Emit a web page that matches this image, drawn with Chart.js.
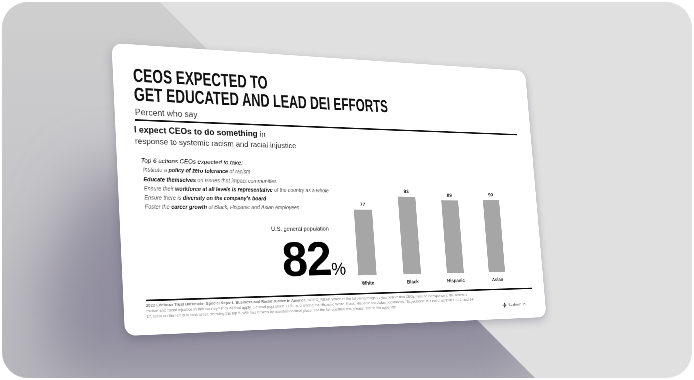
<!DOCTYPE html>
<html>
<head>
<meta charset="utf-8">
<script src="https://cdn.jsdelivr.net/npm/chart.js@4/dist/chart.umd.min.js"></script>
<style>
  html,body{margin:0;padding:0;background:#fff;width:694px;height:380px;overflow:hidden;font-family:"Liberation Sans",Arial,sans-serif;}
  #frame{position:absolute;left:2px;top:2px;width:690px;height:376px;border-radius:26px;overflow:hidden;background:#e0e0e0;}
  #leftRegion{position:absolute;left:0;top:0;width:690px;height:376px;
    clip-path:polygon(0 0,158px 0,533px 376px,0 376px);
    background:linear-gradient(180deg,#cfcfcf 0%,#c4c3c7 55%,#b9b8be 100%);}
  #shadowWrap{position:absolute;left:0;top:0;width:690px;height:376px;filter:blur(30px);}
  #shadowShape{position:absolute;left:0;top:0;width:690px;height:376px;
    clip-path:polygon(90px 170px,470px 190px,540px 300px,520px 420px,60px 420px,40px 280px);
    background:rgba(122,117,140,0.66);}
  #card{position:absolute;left:-2px;top:-2px;width:900px;height:540px;background:#fff;border-radius:20px;
    transform-origin:0 0;box-shadow:0 6px 18px rgba(60,55,80,0.30);overflow:hidden;}
  .abs{position:absolute;white-space:nowrap;}
  #title{font-size:36px;line-height:36px;font-weight:bold;color:#111;transform:scaleX(0.72);transform-origin:0 0;}
  #sub{font-size:16px;line-height:16px;color:#3a3a3a;}
  .rule{position:absolute;background:#111;height:3px;}
  #expect{font-size:16.2px;line-height:16.2px;font-weight:bold;color:#111;}
  #expect span{font-weight:normal;font-size:15px;color:#333;}
  #resp{font-size:15px;line-height:15px;color:#333;}
  #top6{font-size:11.7px;line-height:11.7px;font-style:italic;color:#000;}
  #items{font-size:10.3px;line-height:17.2px;font-style:italic;color:#5e5e5e;}
  #items b{color:#111;}
  #gp{font-size:11.5px;line-height:11.5px;color:#222;}
  #big{font-size:95px;line-height:95px;font-weight:bold;color:#000;letter-spacing:-2px;}
  #big span{font-size:35px;font-weight:normal;letter-spacing:0;}
  #chartBox{position:absolute;}
  #foot{position:absolute;font-size:7.5px;line-height:10px;color:#8a8a8a;white-space:normal;width:690px;}
  #foot b{color:#777;}
  #logo{font-size:8px;line-height:12px;color:#444;}
</style>
</head>
<body>
<div id="frame">
  <div id="leftRegion">
    <div id="shadowWrap"><div id="shadowShape"></div></div>
  </div>
  <div id="card">
    <div id="title" class="abs">CEOS EXPECTED TO<br>GET EDUCATED AND LEAD DEI EFFORTS</div>
    <div id="sub" class="abs">Percent who say</div>
    <div id="rule1" class="rule"></div>
    <div id="expect" class="abs">I expect CEOs to do something <span>in</span></div>
    <div id="resp" class="abs">response to systemic racism and racial injustice</div>
    <div id="top6" class="abs">Top 6 actions CEOs expected to take:</div>
    <div id="items" class="abs"></div>
    <div id="gp" class="abs">U.S. general population</div>
    <div id="big" class="abs"></div>
    <div id="chartBox"><canvas id="chart"></canvas></div>
    <div id="rule2" class="rule"></div>
    <div id="foot"><b>2022 Edelman Trust Barometer Special Report: Business and Racial Justice in America.</b> MOEC_RESP. Which of the following things do you believe that CEOs must do in response to the systemic racism and racial injustice in this country? Pick all that apply. General population, U.S., and among the Hispanic White, Black, Hispanic and Asian populations. "Expectation" is a net of attributes 1-12, and 14-17. Data on the left is in rank order, showing the top 5, with ties broken by rounded decimal place. For the full question text, please refer to the appendix.</div>
    <div id="logo" class="abs"><svg width="16" height="12" viewBox="0 0 16 12" style="vertical-align:middle"><path d="M2 6 L9 5 L7 1 L10 1 L11 5 L15 6 L11 7 L10 11 L7 11 L9 7 Z" fill="#222"/></svg> Edelman&nbsp;&nbsp;23</div>
  </div>
</div>
<script>
// ---- data ----
const categories = ['White', 'Black', 'Hispanic', 'Asian'];
const expectValues = [77, 93, 89, 90];
const generalPopulation = [82];
const actionItems = [
  'Institute a <b>policy of zero tolerance</b> of racism',
  '<b>Educate themselves</b> on issues that impact communities',
  'Ensure their <b>workforce at all levels is representative</b> of the country as a whole',
  'Ensure there is <b>diversity on the company\u2019s board</b>',
  'Foster the <b>career growth</b> of Black, Hispanic and Asian employees'
];

document.getElementById('items').innerHTML = actionItems.join('<br>');
document.getElementById('big').innerHTML = generalPopulation[0] + '<span>%</span>';

// ---- perspective of the card (layout only) ----
const W = 900, H = 540;
const cardCorners = [[111.5,43],[525,71],[546.5,317],[125,336]]; // page coords
let M;
(function(){
  const p = cardCorners;
  const [x0,y0]=p[0],[x1,y1]=p[1],[x2,y2]=p[2],[x3,y3]=p[3];
  const dx1=x1-x2, dx2=x3-x2, dx3=x0-x1+x2-x3;
  const dy1=y1-y2, dy2=y3-y2, dy3=y0-y1+y2-y3;
  const den = dx1*dy2 - dx2*dy1;
  const g = (dx3*dy2 - dx2*dy3)/den;
  const h = (dx1*dy3 - dx3*dy1)/den;
  const a = x1-x0+g*x1, b = x3-x0+h*x3, c = x0;
  const d = y1-y0+g*y1, e = y3-y0+h*y3, f = y0;
  M = [[a/W, b/H, c],[d/W, e/H, f],[g/W, h/H, 1]];
  const m = [a/W, d/W, 0, g/W,  b/H, e/H, 0, h/H,  0,0,1,0,  c, f, 0, 1];
  document.getElementById('card').style.transform = 'matrix3d(' + m.join(',') + ')';
})();
function inv3(m){
  const [[a,b,c],[d,e,f],[g,h,i]] = m;
  const A=e*i-f*h, B=-(d*i-f*g), C=d*h-e*g;
  const det = a*A + b*B + c*C;
  return [[A/det, -(b*i-c*h)/det, (b*f-c*e)/det],
          [B/det, (a*i-c*g)/det, -(a*f-c*d)/det],
          [C/det, -(a*h-b*g)/det, (a*e-b*d)/det]];
}
const Minv = inv3(M);
// screen point (page px) -> flat card px
function toFlat(x, y){
  const X = Minv[0][0]*x + Minv[0][1]*y + Minv[0][2];
  const Y = Minv[1][0]*x + Minv[1][1]*y + Minv[1][2];
  const Z = Minv[2][0]*x + Minv[2][1]*y + Minv[2][2];
  return [X/Z, Y/Z];
}
function placeText(id, sx, sy, fs){ // (sx,sy) = left edge, cap-centre of first line on screen
  const [X,Y] = toFlat(sx, sy);
  const el = document.getElementById(id);
  el.style.left = X + 'px';
  el.style.top = (Y - 0.49*fs) + 'px';
}
function placeRule(id, s1, s2){
  const [X1,Y1] = toFlat(s1[0], s1[1]);
  const [X2,Y2] = toFlat(s2[0], s2[1]);
  const el = document.getElementById(id);
  el.style.left = X1 + 'px';
  el.style.width = (X2 - X1) + 'px';
  el.style.top = ((Y1 + Y2)/2 - 1.5) + 'px';
}
placeText('title', 133, 75, 36);
placeText('sub', 135, 112, 16);
placeRule('rule1', [135,121], [517,134]);
placeText('expect', 134, 129, 16.2);
placeText('resp', 135, 140.5, 15);
placeText('top6', 141, 160, 11.7);
(function(){
  const [X,Y] = toFlat(143, 170);
  const el = document.getElementById('items');
  el.style.left = X + 'px'; el.style.top = (Y - 8.6) + 'px';
})();
placeText('gp', 271, 229, 11.5);
(function(){ // big number: anchor on baseline
  const [X,Y] = toFlat(285, 276.5);
  const el = document.getElementById('big');
  el.style.left = (X - 4) + 'px';
  el.style.top = (Y - 0.8465*95) + 'px';
})();
placeRule('rule2', [146,301], [532,288]);
(function(){
  const [X,Y] = toFlat(146, 306);
  const el = document.getElementById('foot');
  el.style.left = X + 'px'; el.style.top = (Y - 5) + 'px';
})();
placeText('logo', 501, 304, 8);

// plot box (layout): derived from screen anchors of the plot region
(function(){
  const firstCentre = toFlat(367.5, 275);
  const lastCentre = toFlat(497, 272);
  const catW = (lastCentre[0] - firstCentre[0]) / 3;
  const baseY = (firstCentre[1] + lastCentre[1]) / 2;
  const topAnchor = toFlat(410, 196.5);
  const perUnit = (toFlat(410, 274)[1] - topAnchor[1]) / 93;
  const plotH = 100 * perUnit;
  const padTop = 22, axisH = 30;
  const box = document.getElementById('chartBox');
  const left = firstCentre[0] - catW/2, width = 4*catW;
  const top = baseY - plotH - padTop, height = plotH + padTop + axisH;
  box.style.left = left + 'px'; box.style.top = top + 'px';
  box.style.width = width + 'px'; box.style.height = height + 'px';
  const cv = document.getElementById('chart');
  cv.style.width = width + 'px'; cv.style.height = height + 'px';
  cv.width = Math.round(width); cv.height = Math.round(height);
  window.__plot = { padTop, axisH };
})();

const valueLabels = {
  id: 'valueLabels',
  afterDatasetsDraw(chart) {
    const ctx = chart.ctx;
    chart.getDatasetMeta(0).data.forEach((bar, i) => {
      ctx.save();
      ctx.font = 'bold 10.5px "Liberation Sans", Arial, sans-serif';
      ctx.fillStyle = '#222';
      ctx.textAlign = 'center';
      ctx.textBaseline = 'bottom';
      ctx.fillText(String(chart.data.datasets[0].data[i]), bar.x, bar.y - 5);
      ctx.restore();
    });
  }
};

new Chart(document.getElementById('chart'), {
  type: 'bar',
  data: {
    labels: categories,
    datasets: [{
      data: expectValues,
      backgroundColor: '#a6a6a6',
      borderWidth: 0,
      categoryPercentage: 1,
      barPercentage: 0.40
    }]
  },
  options: {
    responsive: false,
    maintainAspectRatio: false,
    animation: false,
    devicePixelRatio: 2,
    layout: { padding: { top: window.__plot.padTop, left: 0, right: 0, bottom: 0 } },
    plugins: { legend: { display: false }, tooltip: { enabled: false } },
    scales: {
      y: { display: false, min: 0, max: 100 },
      x: {
        grid: { display: false, drawTicks: false },
        border: { display: false },
        ticks: { padding: 10, color: '#222', font: { size: 10, weight: 'bold', family: '"Liberation Sans", Arial, sans-serif' } },
        afterFit: s => { s.height = window.__plot.axisH; }
      }
    }
  },
  plugins: [valueLabels]
});
</script>
</body>
</html>
